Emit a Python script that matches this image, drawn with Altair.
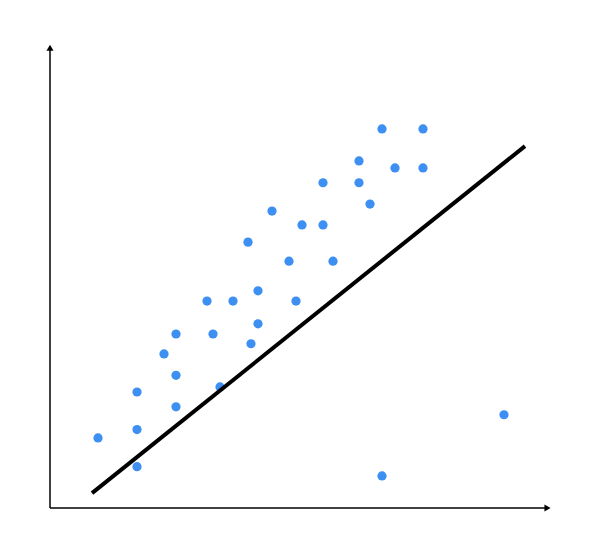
import altair as alt
import pandas as pd

# scatter data (arbitrary units)
xs = [0.96, 1.74, 1.74, 1.74, 2.28, 2.52, 2.52, 2.52, 3.14, 3.26, 3.40, 3.66, 3.96, 4.02, 4.16, 4.16,
      4.44, 4.78, 4.92, 5.04, 5.46, 5.46, 5.66, 6.18, 6.18, 6.40, 6.64, 6.64, 6.90, 7.46, 7.46, 9.08]
ys = [1.51, 0.89, 1.69, 2.50, 3.32, 3.75, 2.86, 2.18, 4.46, 3.75, 2.61, 4.46, 5.73, 3.54, 4.68, 3.97,
      6.40, 5.32, 4.46, 6.10, 7.01, 6.10, 5.32, 7.48, 7.01, 6.55, 8.17, 0.69, 7.33, 8.17, 7.33, 2.01]

# fitted line end points
line_x = [0.84, 9.50]
line_y = [0.32, 7.80]

# axis extents
axis_max_x = 9.95
axis_max_y = 9.92

pts = pd.DataFrame({"x": xs, "y": ys})
fit = pd.DataFrame({"x": line_x, "y": line_y})

xs_scale = alt.Scale(domain=[0, 10], nice=False, zero=False)
ys_scale = alt.Scale(domain=[0, 10], nice=False, zero=False)

X = lambda f="x": alt.X(f"{f}:Q", scale=xs_scale, axis=None)
Y = lambda f="y": alt.Y(f"{f}:Q", scale=ys_scale, axis=None)

xaxis = alt.Chart(pd.DataFrame({"x": [0], "x2": [axis_max_x - 0.05], "y": [0]})).mark_rule(
    color="black", strokeWidth=1.5).encode(x=X(), x2="x2:Q", y=Y())
yaxis = alt.Chart(pd.DataFrame({"x": [0], "y": [0], "y2": [axis_max_y - 0.05]})).mark_rule(
    color="black", strokeWidth=1.5).encode(x=X(), y=Y(), y2="y2:Q")

xarrow = alt.Chart(pd.DataFrame({"x": [axis_max_x], "y": [0]})).mark_point(
    shape="triangle-right", filled=True, color="black", size=50, opacity=1).encode(x=X(), y=Y())
yarrow = alt.Chart(pd.DataFrame({"x": [0], "y": [axis_max_y]})).mark_point(
    shape="triangle-up", filled=True, color="black", size=50, opacity=1).encode(x=X(), y=Y())

points = alt.Chart(pts).mark_circle(color="#3d8ff2", size=85, opacity=1).encode(x=X(), y=Y())
fitline = alt.Chart(fit).mark_line(color="black", strokeWidth=4).encode(x=X(), y=Y())

chart = alt.layer(xaxis, yaxis, xarrow, yarrow, points, fitline).properties(
    width=500, height=464,
    background="white",
    autosize=alt.AutoSizeParams(type="none"),
    padding={"left": 42, "top": 36, "right": 20, "bottom": 20},
).configure_view(stroke="transparent", strokeWidth=0)

chart.save("out.html", embed_options={"renderer": "svg", "actions": False})
